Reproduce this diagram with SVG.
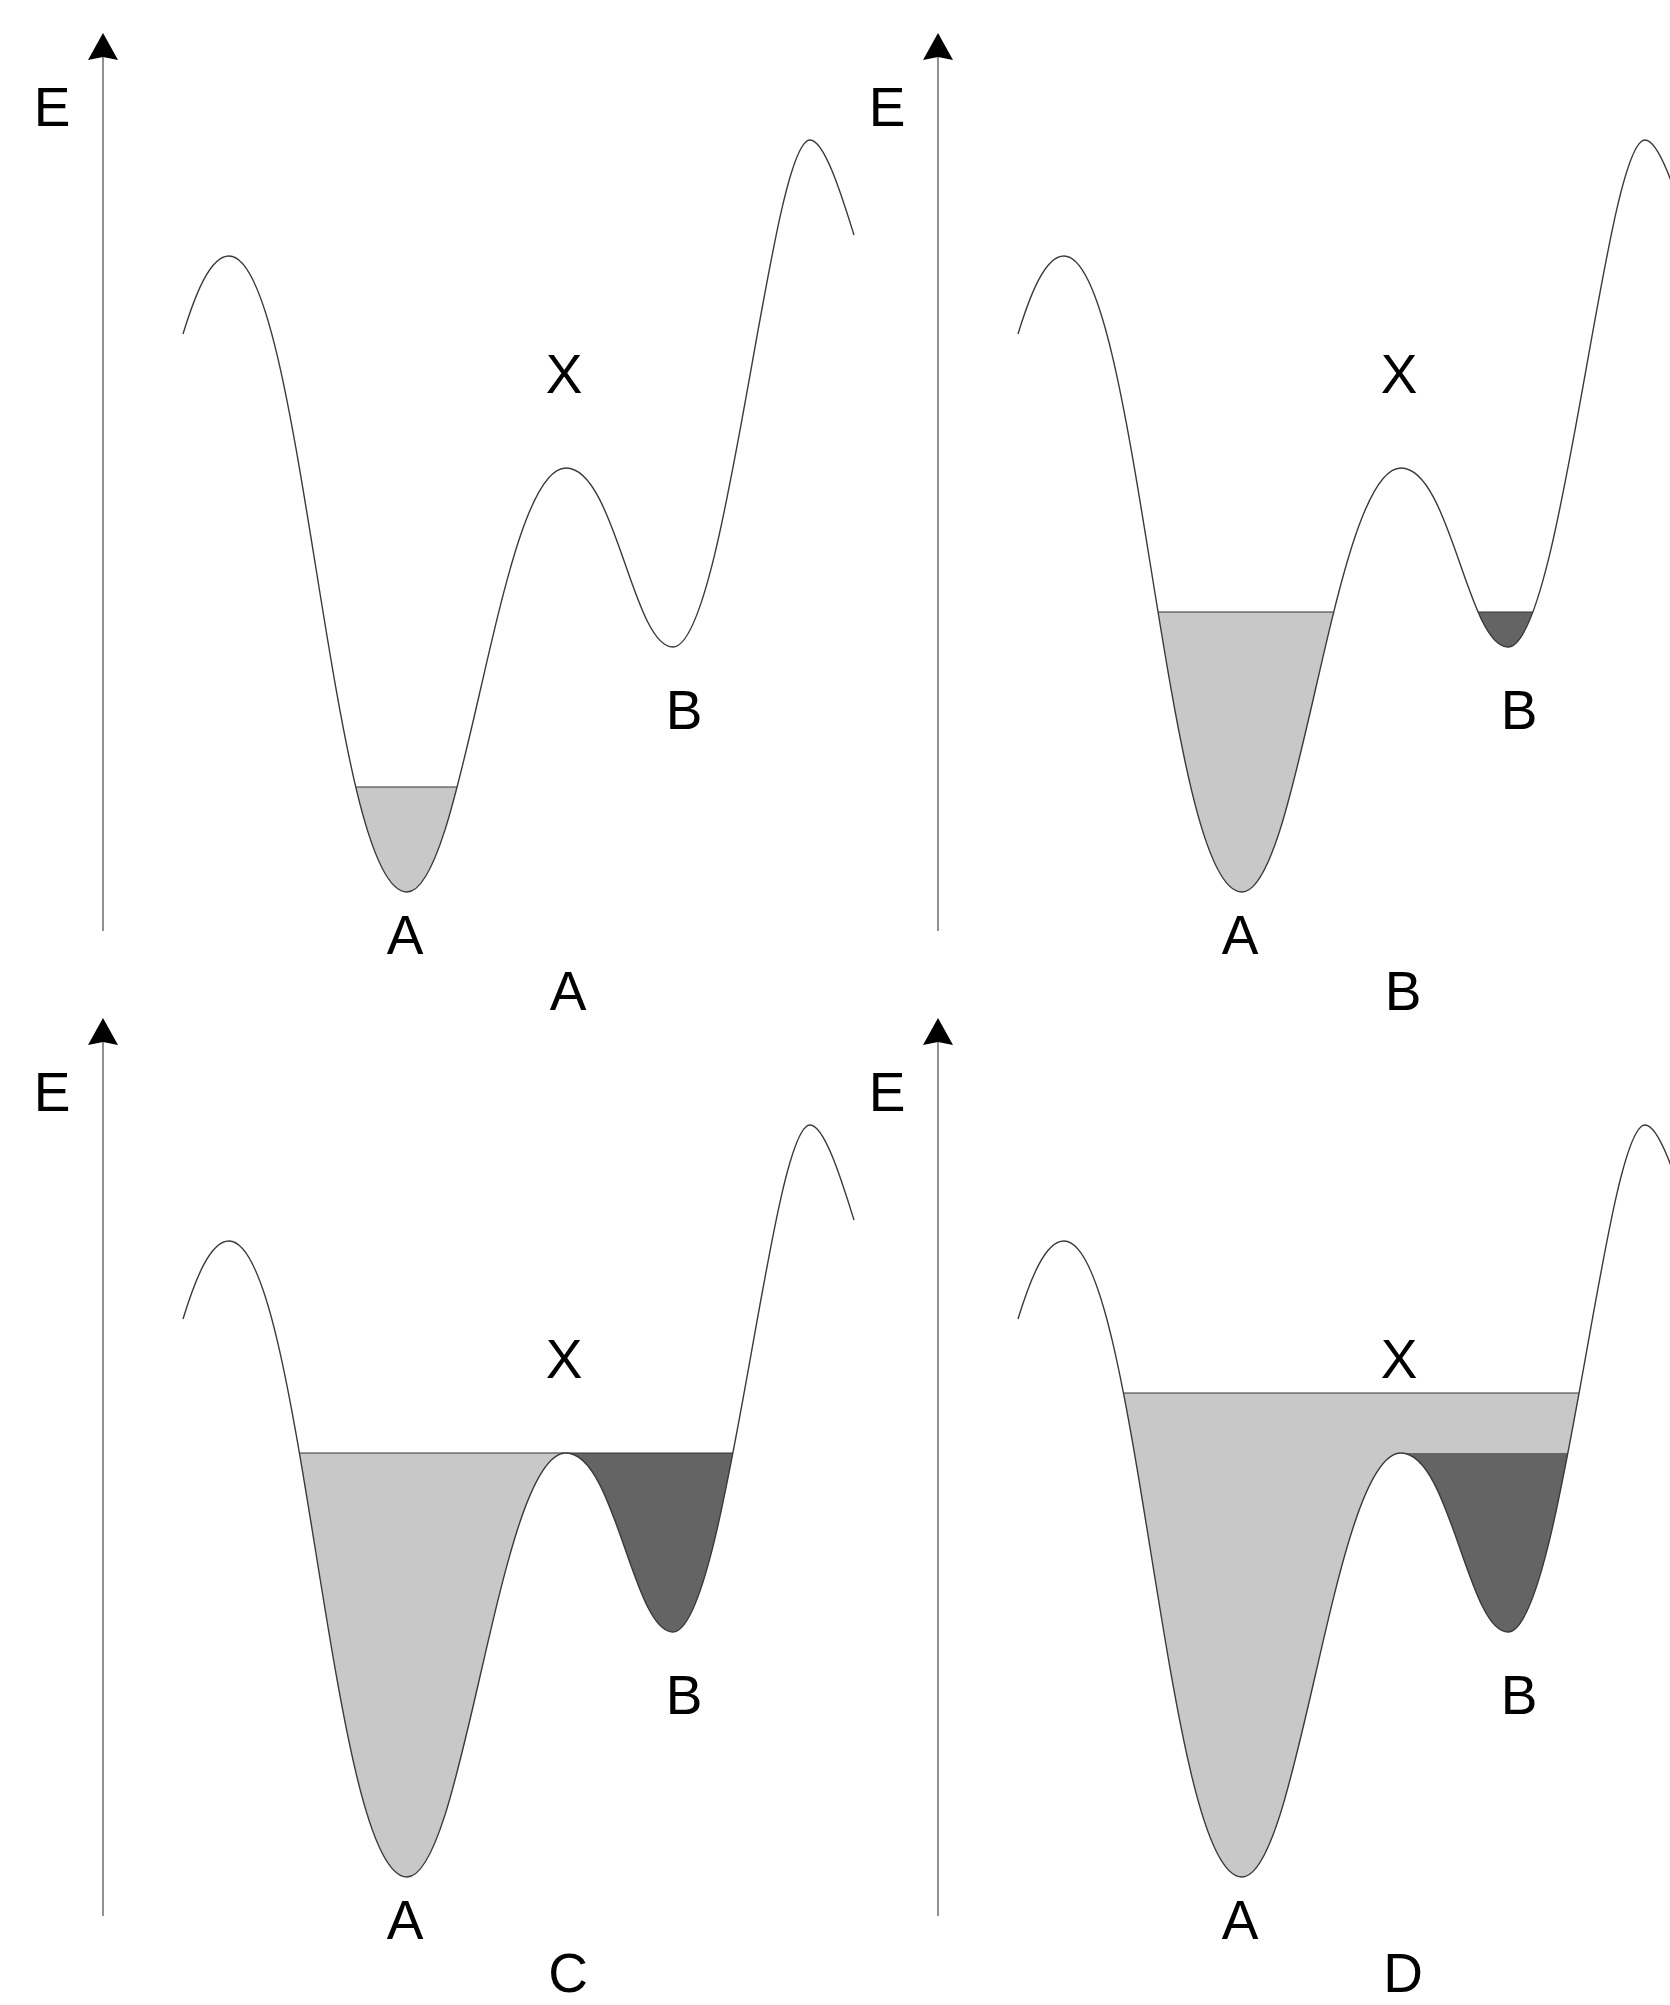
<svg xmlns="http://www.w3.org/2000/svg" xmlns:xlink="http://www.w3.org/1999/xlink" width="1670" height="2005" viewBox="0 0 1670 2005">
<style>
.curve{fill:none;stroke:#3a3a3a;stroke-width:1.4}
.axis{stroke:#555;stroke-width:1.3;fill:none}
.head{fill:#000}
.light{fill:#c8c8c8}
.dark{fill:#646464}
.level{stroke:#333;stroke-width:1.2}
.lbl{font-family:"Liberation Sans",Arial,sans-serif;font-size:55px;fill:#000;text-anchor:middle}
</style>
<defs>
<path id="curve" d="M183,334 C195,295 210,256 229,256 C303,256 330,892 407,892 C463.6,892 499.1,468 566,468 C615.2,468 632.8,647 673,647 C726.3,647 770.7,140 810,140 C825,140 843,200 854,235"/>
<clipPath id="above" clipPathUnits="userSpaceOnUse">
<path d="M183,334 C195,295 210,256 229,256 C303,256 330,892 407,892 C463.6,892 499.1,468 566,468 C615.2,468 632.8,647 673,647 C726.3,647 770.7,140 810,140 C825,140 843,200 854,235 L854,0 L183,0 Z"/>
</clipPath>
<g id="axis">
<line class="axis" x1="103" y1="56" x2="103" y2="931"/>
<path class="head" d="M103,33 L118,60 L103,57 L88,60 Z"/>
</g>
</defs>
<g id="panelA">
<g clip-path="url(#above)">
<rect class="light" x="300" y="787" width="220" height="120"/>
<line class="level" x1="300" y1="787" x2="520" y2="787"/>
</g>
<use xlink:href="#curve" class="curve"/>
<use xlink:href="#axis"/>
<text class="lbl" x="52" y="126">E</text>
<text class="lbl" x="564" y="393">X</text>
<text class="lbl" x="684" y="729">B</text>
<text class="lbl" x="405" y="954">A</text>
<text class="lbl" x="568" y="1010">A</text>
</g>
<g id="panelB" transform="translate(835,0)">
<g clip-path="url(#above)">
<rect class="light" x="250" y="612" width="316" height="300"/>
<rect class="dark" x="600" y="612" width="160" height="100"/>
<line class="level" x1="250" y1="612" x2="760" y2="612"/>
</g>
<use xlink:href="#curve" class="curve"/>
<use xlink:href="#axis"/>
<text class="lbl" x="52" y="126">E</text>
<text class="lbl" x="564" y="393">X</text>
<text class="lbl" x="684" y="729">B</text>
<text class="lbl" x="405" y="954">A</text>
<text class="lbl" x="568" y="1010">B</text>
</g>
<g id="panelC" transform="translate(0,985)">
<g clip-path="url(#above)">
<rect class="light" x="250" y="468" width="316" height="440"/>
<rect class="dark" x="566" y="468" width="194" height="200"/>
<line class="level" x1="250" y1="468" x2="760" y2="468"/>
</g>
<use xlink:href="#curve" class="curve"/>
<use xlink:href="#axis"/>
<text class="lbl" x="52" y="126">E</text>
<text class="lbl" x="564" y="393">X</text>
<text class="lbl" x="684" y="729">B</text>
<text class="lbl" x="405" y="954">A</text>
<text class="lbl" x="568" y="1007">C</text>
</g>
<g id="panelD" transform="translate(835,985)">
<g clip-path="url(#above)">
<rect class="light" x="250" y="408" width="510" height="500"/>
<rect class="dark" x="566" y="468" width="194" height="200"/>
<line class="level" x1="250" y1="408" x2="760" y2="408"/>
</g>
<use xlink:href="#curve" class="curve"/>
<use xlink:href="#axis"/>
<text class="lbl" x="52" y="126">E</text>
<text class="lbl" x="564" y="393">X</text>
<text class="lbl" x="684" y="729">B</text>
<text class="lbl" x="405" y="954">A</text>
<text class="lbl" x="568" y="1007">D</text>
</g>
</svg>
